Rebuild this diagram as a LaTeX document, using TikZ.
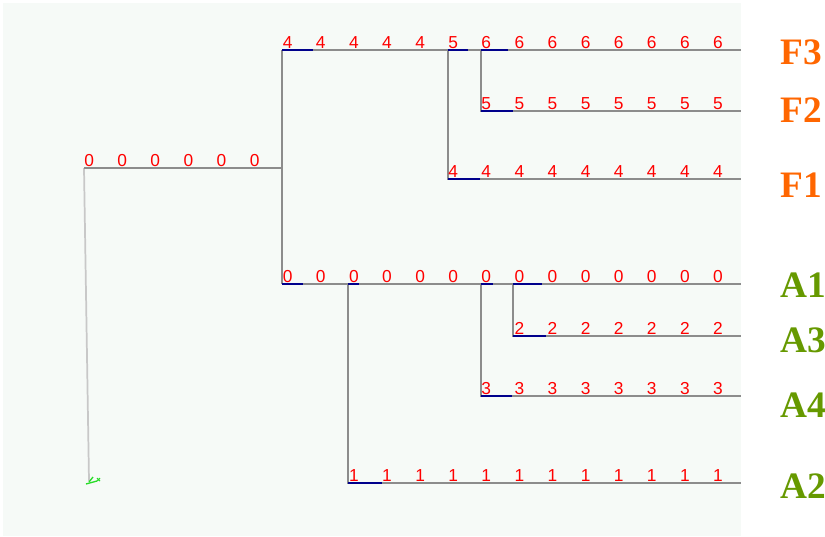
\documentclass[tikz,border=0pt]{standalone}
\usepackage{fontspec}
\setmainfont{Liberation Serif}
\newfontfamily\szamfont{Liberation Sans}
\usetikzlibrary{positioning}
\definecolor{panel}{RGB}{246,250,247}
\definecolor{agszin}{RGB}{140,140,140}
\definecolor{gyszin}{RGB}{200,200,200}
\definecolor{kek}{RGB}{0,0,140}
\definecolor{narancs}{RGB}{255,102,0}
\definecolor{zold}{RGB}{102,153,0}
\definecolor{ikon}{RGB}{40,220,40}
\tikzset{
  ag/.style={draw=agszin,line width=1.5pt},
  gyoker/.style={draw=gyszin,line width=1.3pt},
  elo/.style={draw=kek,line width=1.5pt},
  szm/.style={anchor=south west,inner sep=0pt,text=red,
    font=\szamfont\fontsize{13}{13}\selectfont},
  levf/.style={anchor=west,inner sep=0pt,text=narancs,
    font=\bfseries\fontsize{28}{28}\selectfont},
  leva/.style={levf,text=zold},
}

\begin{document}
\begin{tikzpicture}[x=0.75pt,y=-0.75pt]
  \useasboundingbox (0,0) rectangle (825,536);
  \fill[panel] (3,3) rectangle (741,536);
  % elagazasi pontok
  \coordinate (gy) at (84,168);
  \coordinate (g1) at (282,168);
  \coordinate (f) at (282,50);
  \coordinate (a) at (282,284);
  \coordinate (f1x) at (448,50);  \coordinate (f1) at (448,179);
  \coordinate (f2x) at (481,50);  \coordinate (f2) at (481,111);
  \coordinate (a2x) at (348,284); \coordinate (a2) at (348,483);
  \coordinate (a4x) at (481,284); \coordinate (a4) at (481,396);
  \coordinate (a3x) at (513,284); \coordinate (a3) at (513,336);
  \coordinate (gyalj) at (89,481);
  % vegpontok
  \foreach \n/\y in {F3/50,F2/111,F1/179,A1/284,A3/336,A4/396,A2/483}
    \coordinate (v\n) at (741,\y);
  % levelek
  \node[levf] (F3) at (780,52) {F3};
  \node[levf] (F2) at (780,110) {F2};
  \node[levf] (F1) at (780,185) {F1};
  \node[leva] (A1) at (780,285) {A1};
  \node[leva] (A3) at (780,340) {A3};
  \node[leva] (A4) at (780,405) {A4};
  \node[leva] (A2) at (780,486) {A2};
  % agak
  \draw[gyoker] (gy) -- (gyalj);
  \draw[ag] (gy) -- (g1);
  \draw[ag] (f) -- (a);
  \draw[ag] (f) -- (vF3);
  \draw[ag] (f1x) -- (f1) -- (vF1);
  \draw[ag] (f2x) -- (f2) -- (vF2);
  \draw[ag] (a) -- (vA1);
  \draw[ag] (a2x) -- (a2) -- (vA2);
  \draw[ag] (a4x) -- (a4) -- (vA4);
  \draw[ag] (a3x) -- (a3) -- (vA3);
  % kek szakaszok
  \draw[elo] (f) -- ++(31,0);
  \draw[elo] (f1x) -- ++(20,0);
  \draw[elo] (f2x) -- ++(27,0);
  \draw[elo] (f2) -- ++(32,0);
  \draw[elo] (f1) -- ++(32,0);
  \draw[elo] (a) -- ++(21,0);
  \draw[elo] (a2x) -- ++(11,0);
  \draw[elo] (a4x) -- ++(12,0);
  \draw[elo] (a3x) -- ++(29,0);
  \draw[elo] (a3) -- ++(33,0);
  \draw[elo] (a4) -- ++(31,0);
  \draw[elo] (a2) -- ++(34,0);
  % szamok
  \foreach \k in {0,...,5}
    \node[szm] (gy-\k) at ({84+33.1*\k},167) {0};
  \foreach \k/\v in {6/4,7/4,8/4,9/4,10/4,11/5,12/6,13/6,14/6,15/6,16/6,17/6,18/6,19/6}
    \node[szm] (f3-\k) at ({84+33.1*\k},49) {\v};
  \foreach \k in {12,...,19}
    \node[szm] (f2-\k) at ({84+33.1*\k},110) {5};
  \foreach \k in {11,...,19}
    \node[szm] (f1-\k) at ({84+33.1*\k},178) {4};
  \foreach \k in {6,...,19}
    \node[szm] (a1-\k) at ({84+33.1*\k},283) {0};
  \foreach \k in {13,...,19}
    \node[szm] (a3-\k) at ({84+33.1*\k},335) {2};
  \foreach \k in {12,...,19}
    \node[szm] (a4-\k) at ({84+33.1*\k},395) {3};
  \foreach \k in {8,...,19}
    \node[szm] (a2-\k) at ({84+33.1*\k},482) {1};
  % tengely ikon
  \draw[ikon,line width=1pt] (86,484) -- (97,481);
  \draw[ikon,line width=1pt] (89,482) -- (93,477);
  \draw[ikon,line width=0.8pt] (97,478) -- (100,481) (97,481) -- (100,478);
\end{tikzpicture}
\end{document}
